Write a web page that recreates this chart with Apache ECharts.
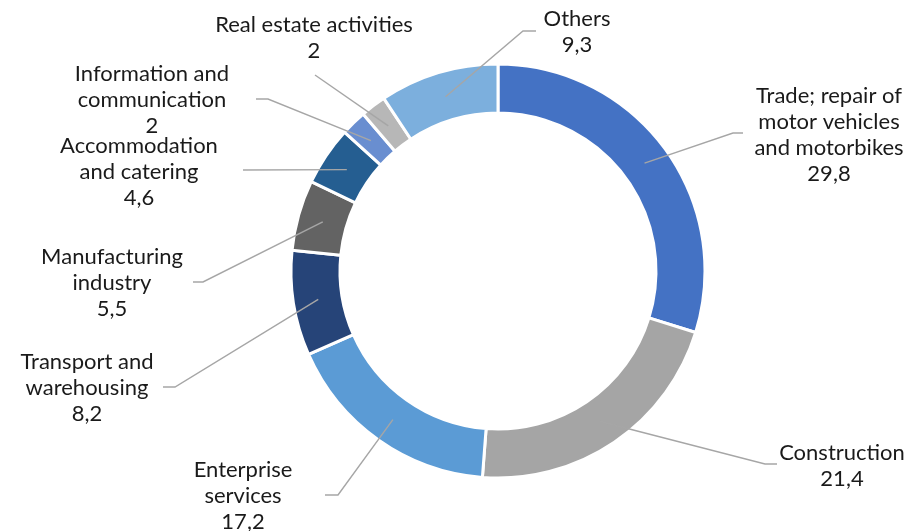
<!DOCTYPE html>
<html>
<head>
<meta charset="utf-8">
<script src="https://cdn.jsdelivr.net/npm/echarts@6/dist/echarts.min.js"></script>
<style>
html,body{margin:0;padding:0;background:#fff;}
#chart{width:910px;height:531px;}
</style>
</head>
<body>
<div id="chart"></div>
<script>
// ---- data ----
const categories = [
  'Trade; repair of\nmotor vehicles\nand motorbikes',
  'Construction',
  'Enterprise\nservices',
  'Transport and\nwarehousing',
  'Manufacturing\nindustry',
  'Accommodation\nand catering',
  'Information and\ncommunication',
  'Real estate activities',
  'Others'
];
const values = [29.8, 21.4, 17.2, 8.2, 5.5, 4.6, 2, 2, 9.3];

// ---- styles / layout (not data) ----
const colors = ['#4472C4','#A5A5A5','#5B9BD5','#264478','#636363','#255E91','#698ED0','#B7B7B7','#7CAFDD'];
const CX = 498, CY = 271, R_IN = 158, R_OUT = 207, R_MID = 182;
const labelPos = [
  [829,135],[842,466],[243,496],[87,388],[112,283],[139,172],[152,100],[314,38],[577,32]
];
const leaderPts = [
  [[733,133],[743,133]],
  [[765,464],[777,464]],
  [[338,495],[325,495]],
  [[175,387],[163,387]],
  [[203,282],[193,282]],
  [[243,170],[243,170]],
  [[268,99],[256,99]],
  [[315,75],[315,75]],
  [[523,31],[536,31]]
];

const total = values.reduce((a,b)=>a+b,0);
const midAngles = [];
let cum = 0;
values.forEach(v => { midAngles.push((cum + v/2)/total*2*Math.PI); cum += v; });

const fmt = v => String(v).replace('.', ',');
const pieData = categories.map((c,i)=>({name:c, value:values[i]}));

const chart = echarts.init(document.getElementById('chart'), null, {renderer:'canvas'});
chart.setOption({
  animation:false,
  backgroundColor:'#fff',
  color: colors,
  series:[{
    type:'pie',
    z:2,
    center:[CX, CY],
    radius:[R_IN, R_OUT],
    startAngle:90,
    clockwise:true,
    itemStyle:{borderColor:'#fff', borderWidth:3},
    label:{show:false},
    labelLine:{show:false},
    emphasis:{disabled:true},
    silent:true,
    data: pieData
  },{
    type:'pie',
    z:5,
    center:[CX, CY],
    radius:[R_IN, R_OUT],
    startAngle:90,
    clockwise:true,
    avoidLabelOverlap:false,
    itemStyle:{color:'rgba(0,0,0,0)', borderWidth:0},
    label:{
      show:true,
      position:'outside',
      formatter: p => p.name + '\n' + fmt(p.value),
      fontFamily:'Lato',
      fontSize:22,
      lineHeight:26,
      color:'#1a1a1a',
      align:'center'
    },
    labelLine:{show:true, smooth:false, lineStyle:{color:'#A6A6A6', width:1.4}},
    labelLayout: function(params){
      const i = params.dataIndex;
      const a = midAngles[i];
      const sx = CX + R_MID*Math.sin(a), sy = CY - R_MID*Math.cos(a);
      return {
        x: labelPos[i][0],
        y: labelPos[i][1],
        align:'center',
        verticalAlign:'middle',
        labelLinePoints:[[sx,sy], leaderPts[i][0], leaderPts[i][1]]
      };
    },
    emphasis:{disabled:true},
    silent:true,
    data: pieData
  }]
});
</script>
</body>
</html>
